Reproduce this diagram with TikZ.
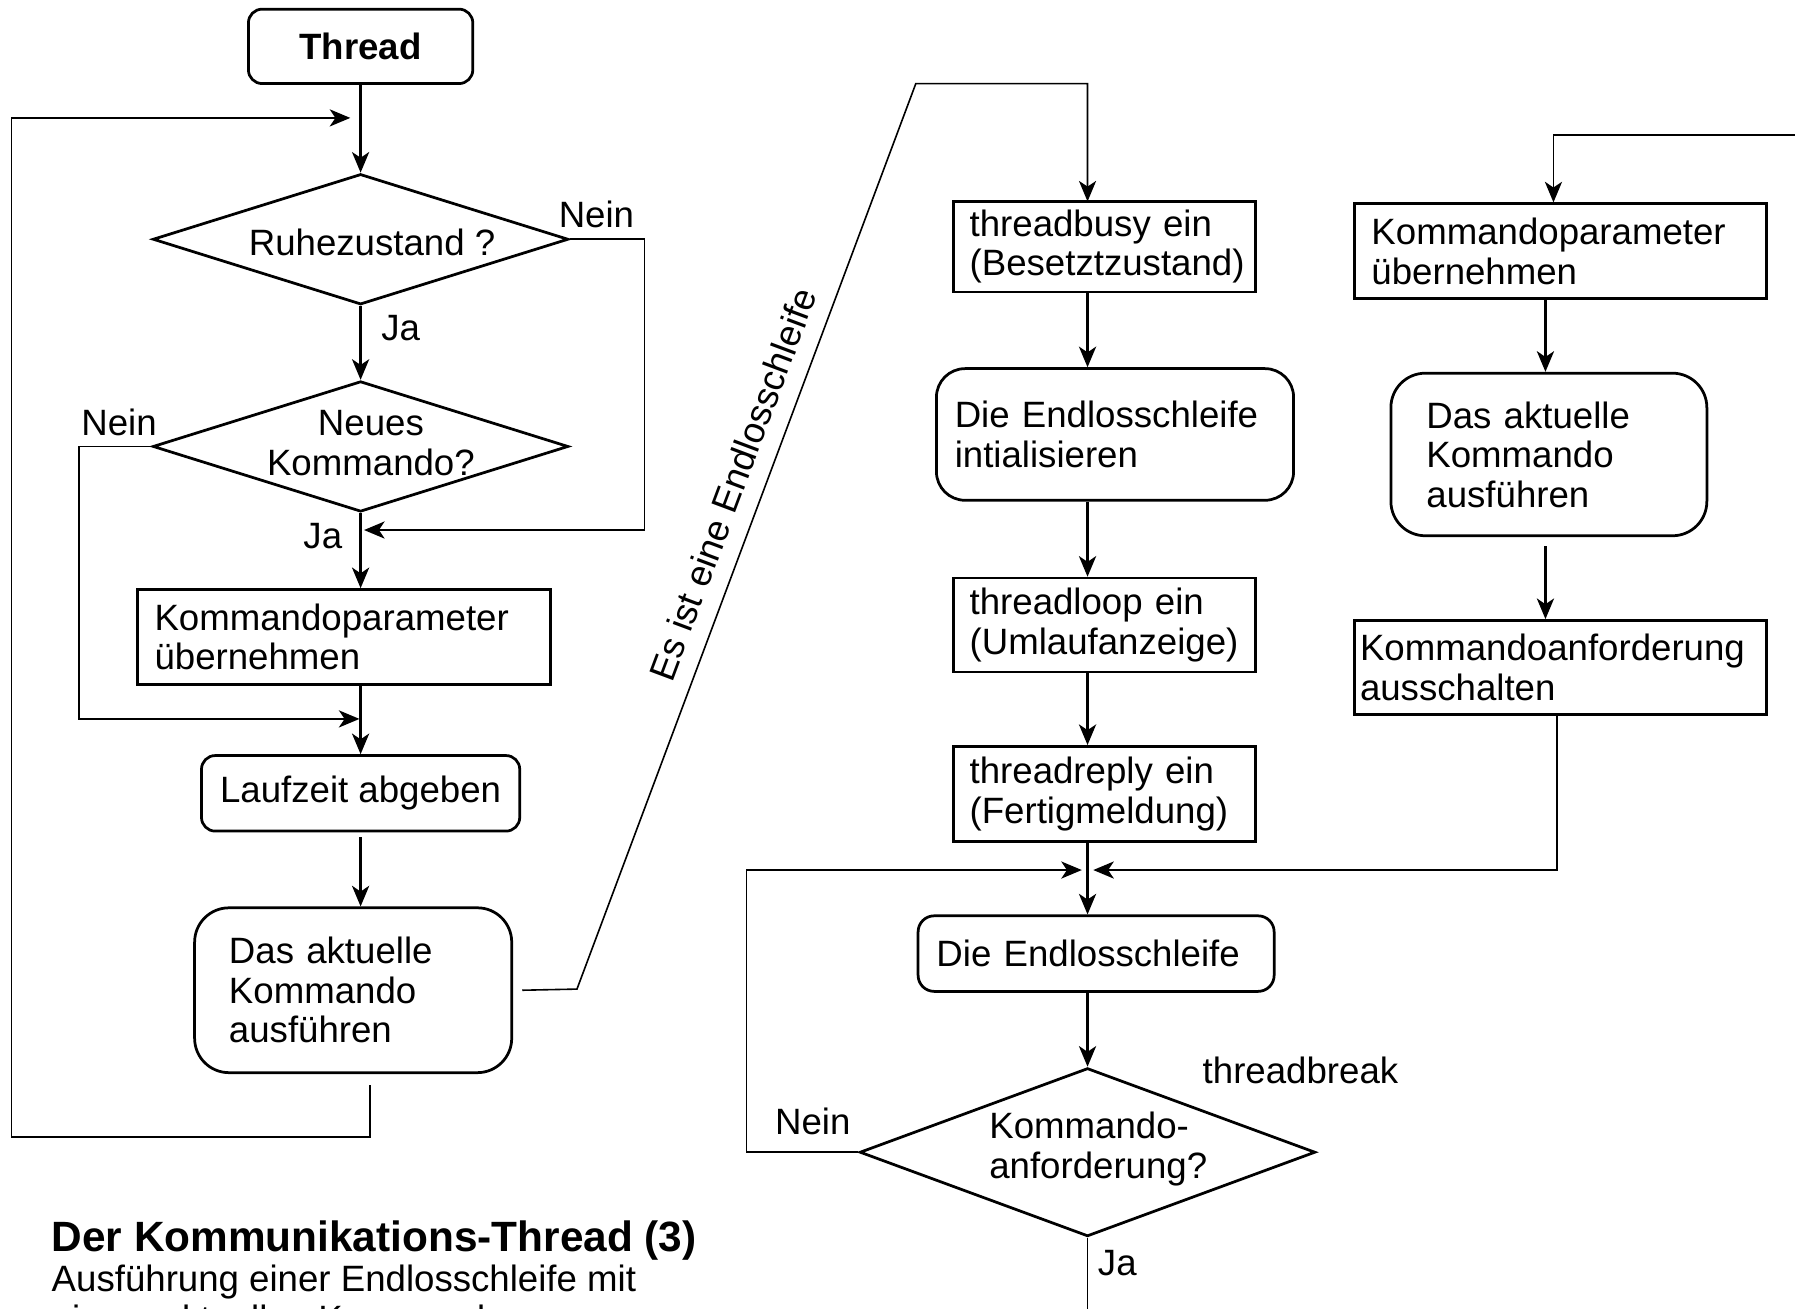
\documentclass[tikz,border=0pt]{standalone}
\usepackage{fontspec}
\setmainfont{Liberation Sans}
\usetikzlibrary{shapes.geometric,arrows.meta,calc}

\begin{document}
\begin{tikzpicture}[x=1pt,y=-1pt,
  txt/.style={font=\fontsize{32}{34.5}\selectfont},
  boxbase/.style={txt, draw, line width=2.4pt, inner ysep=0pt},
  pbox/.style={boxbase, rectangle},
  rbox/.style={boxbase, rectangle, rounded corners=#1},
  dbox/.style={draw, line width=2.4pt, diamond, inner sep=0pt},
  flow/.style={line width=2.1pt, -{Stealth[length=18pt,width=15pt,inset=5pt]}},
  link/.style={line width=1.4pt},
  linkarr/.style={link, -{Stealth[length=18pt,width=15pt,inset=5pt]}},
  lbl/.style={txt, inner sep=0pt},
]
\fill[white] (0,0) rectangle (1568,1143);
\useasboundingbox (0,0) rectangle (1568,1143);

% helper coordinates for the vertical spines
\coordinate (mid) at (950,0);
\coordinate (rx) at (1360,0);
\coordinate (rx2) at (1357,0);
\coordinate (rs) at (1350,0);

% ---------- left column: main thread loop ----------
\node[rbox=12pt, minimum width=196pt, minimum height=65pt,
      font=\fontsize{32}{34.5}\selectfont\bfseries] (thread) at (315,40.5) {Thread};
\node[dbox, minimum width=363pt, minimum height=114pt] (d1) at (315,209) {};
\node[lbl] (d1t) at (325,212) {Ruhezustand ?};
\node[dbox, minimum width=363pt, minimum height=114pt] (d2) at (315,390) {};
\node[lbl, align=center] (d2t) at (324,387) {Neues\\Kommando?};
\node[pbox, minimum width=361pt, minimum height=83pt, text width=331pt,
      inner xsep=15pt, align=left] (kp1) at (300.5,556.5) {Kommandoparameter\\übernehmen};
\node[rbox=12pt, minimum width=278pt, minimum height=66pt] (lz) at (315,693) {Laufzeit abgeben};
\node[rbox=30pt, minimum width=277pt, minimum height=144pt, text width=217pt,
      inner xsep=30pt, align=left] (akt1) at (308.5,865) {Das aktuelle\\Kommando\\ausführen};

\coordinate (loopin) at (315,103);
\coordinate (loopbl) at (10,993);
\coordinate (r1) at (563,463);
\coordinate (j1) at (315,463);
\coordinate (l2) at (69,628);
\coordinate (j2) at (315,628);

\draw[flow] (thread.south) -- (d1.north);
\draw[flow] (d1.south) -- (d2.north);
\draw[flow] (d2.south) -- (d2.south |- kp1.north);
\draw[flow] (kp1.south -| lz.north) -- (lz.north);
\draw[flow] ($(lz.south)+(0,4)$) -- (lz.south |- akt1.north);
\draw[linkarr] ($(akt1.south)+(14.5,10)$) |- (loopbl) |- ($(loopin)+(-9,0)$);
\draw[linkarr] (d1.east) -| (r1) -- ($(j1)+(3,0)$);
\draw[linkarr] (d2.west) -| (l2) -- ($(j2)+(-1,0)$);

\node[lbl] (nein1) at (521,187) {Nein};
\node[lbl] (ja1) at (350,287) {Ja};
\node[lbl] (nein2) at (104,369) {Nein};
\node[lbl] (ja2) at (282,468) {Ja};

% ---------- transition to the endless loop ----------
\coordinate (dg1) at (504,864);
\coordinate (dg2) at (800,73);
\draw[linkarr] ($(akt1.east)+(8,0)$) -- (dg1) -- (dg2) -| (mid |- 0,176);
\node[lbl, rotate=69.5] (endl) at (640,423) {Es ist eine Endlosschleife};

% ---------- middle column: endless loop ----------
\node[pbox, minimum width=264pt, minimum height=79pt, text width=236pt,
      inner xsep=14pt, align=left] (tb) at (965,215.5) {threadbusy ein\\(Besetztzustand)};
\node[rbox=25pt, minimum width=312pt, minimum height=115pt, text width=280pt,
      inner xsep=16pt, align=left] (ei) at (974,379.5) {Die Endlosschleife\\intialisieren};
\node[pbox, minimum width=264pt, minimum height=82pt, text width=236pt,
      inner xsep=14pt, align=left] (tl) at (965,546) {threadloop ein\\(Umlaufanzeige)};
\node[pbox, minimum width=264pt, minimum height=83pt, text width=236pt,
      inner xsep=14pt, align=left] (tr) at (965,693.5) {threadreply ein\\(Fertigmeldung)};
\node[rbox=14pt, minimum width=311pt, minimum height=66pt, text width=279pt,
      inner xsep=16pt, align=left] (de) at (957.5,833) {Die Endlosschleife};
\node[dbox, minimum width=398pt, minimum height=147pt] (d3) at (950,1006.5) {};
\node[lbl, align=left, anchor=west] (d3t) at (864,1003.5) {Kommando-\\anforderung?};

\coordinate (j3) at (950,760);
\coordinate (l3) at (652,760);
\coordinate (bot) at (950,1160);

\draw[flow] (tb.south -| mid) -- (ei.north -| mid);
\draw[flow] (ei.south -| mid) -- (tl.north -| mid);
\draw[flow] (tl.south -| mid) -- (tr.north -| mid);
\draw[flow] (tr.south -| mid) -- (de.north -| mid);
\draw[flow] (de.south -| mid) -- (d3.north);
\draw[linkarr] (d3.west) -| (l3) -- ($(j3)+(-5,0)$);
\draw[link] (d3.south) -- (bot);

\node[lbl] (nein3) at (710,980) {Nein};
\node[lbl] (tbreak) at (1136,935) {threadbreak};
\node[lbl] (ja3) at (976,1103) {Ja};

% ---------- right column: command execution ----------
\node[pbox, minimum width=360pt, minimum height=83pt, text width=330pt,
      inner xsep=15pt, align=left] (kp2) at (1363,219.5) {Kommandoparameter\\übernehmen};
\node[rbox=30pt, minimum width=276pt, minimum height=142pt, text width=214pt,
      inner xsep=31pt, align=left] (akt2) at (1353,397) {Das aktuelle\\Kommando\\ausführen};
\node[pbox, minimum width=360pt, minimum height=82pt, text width=350pt,
      inner xsep=5pt, align=left] (ka) at (1363,583) {Kommandoanforderung\\ausschalten};

\coordinate (rin) at (1580,118);
\draw[linkarr] (rin) -| (kp2.north -| rx2);
\draw[flow] (kp2.south -| rs) -- (akt2.north -| rs);
\draw[flow] ($(akt2.south -| rs)+(0,8)$) -- (ka.north -| rs);
\draw[linkarr] (ka.south -| rx) |- ($(j3)+(5,0)$);

% ---------- caption ----------
\node[anchor=base west, inner sep=0pt, font=\fontsize{37}{40}\selectfont\bfseries]
  (title) at (45,1093) {Der Kommunikations-Thread (3)};
\node[lbl, anchor=base west] (sub1) at (45,1128) {Ausführung einer Endlosschleife mit};
\node[lbl, anchor=base west] (sub2) at (45,1163) {einem aktuellen Kommando};
\end{tikzpicture}
\end{document}
